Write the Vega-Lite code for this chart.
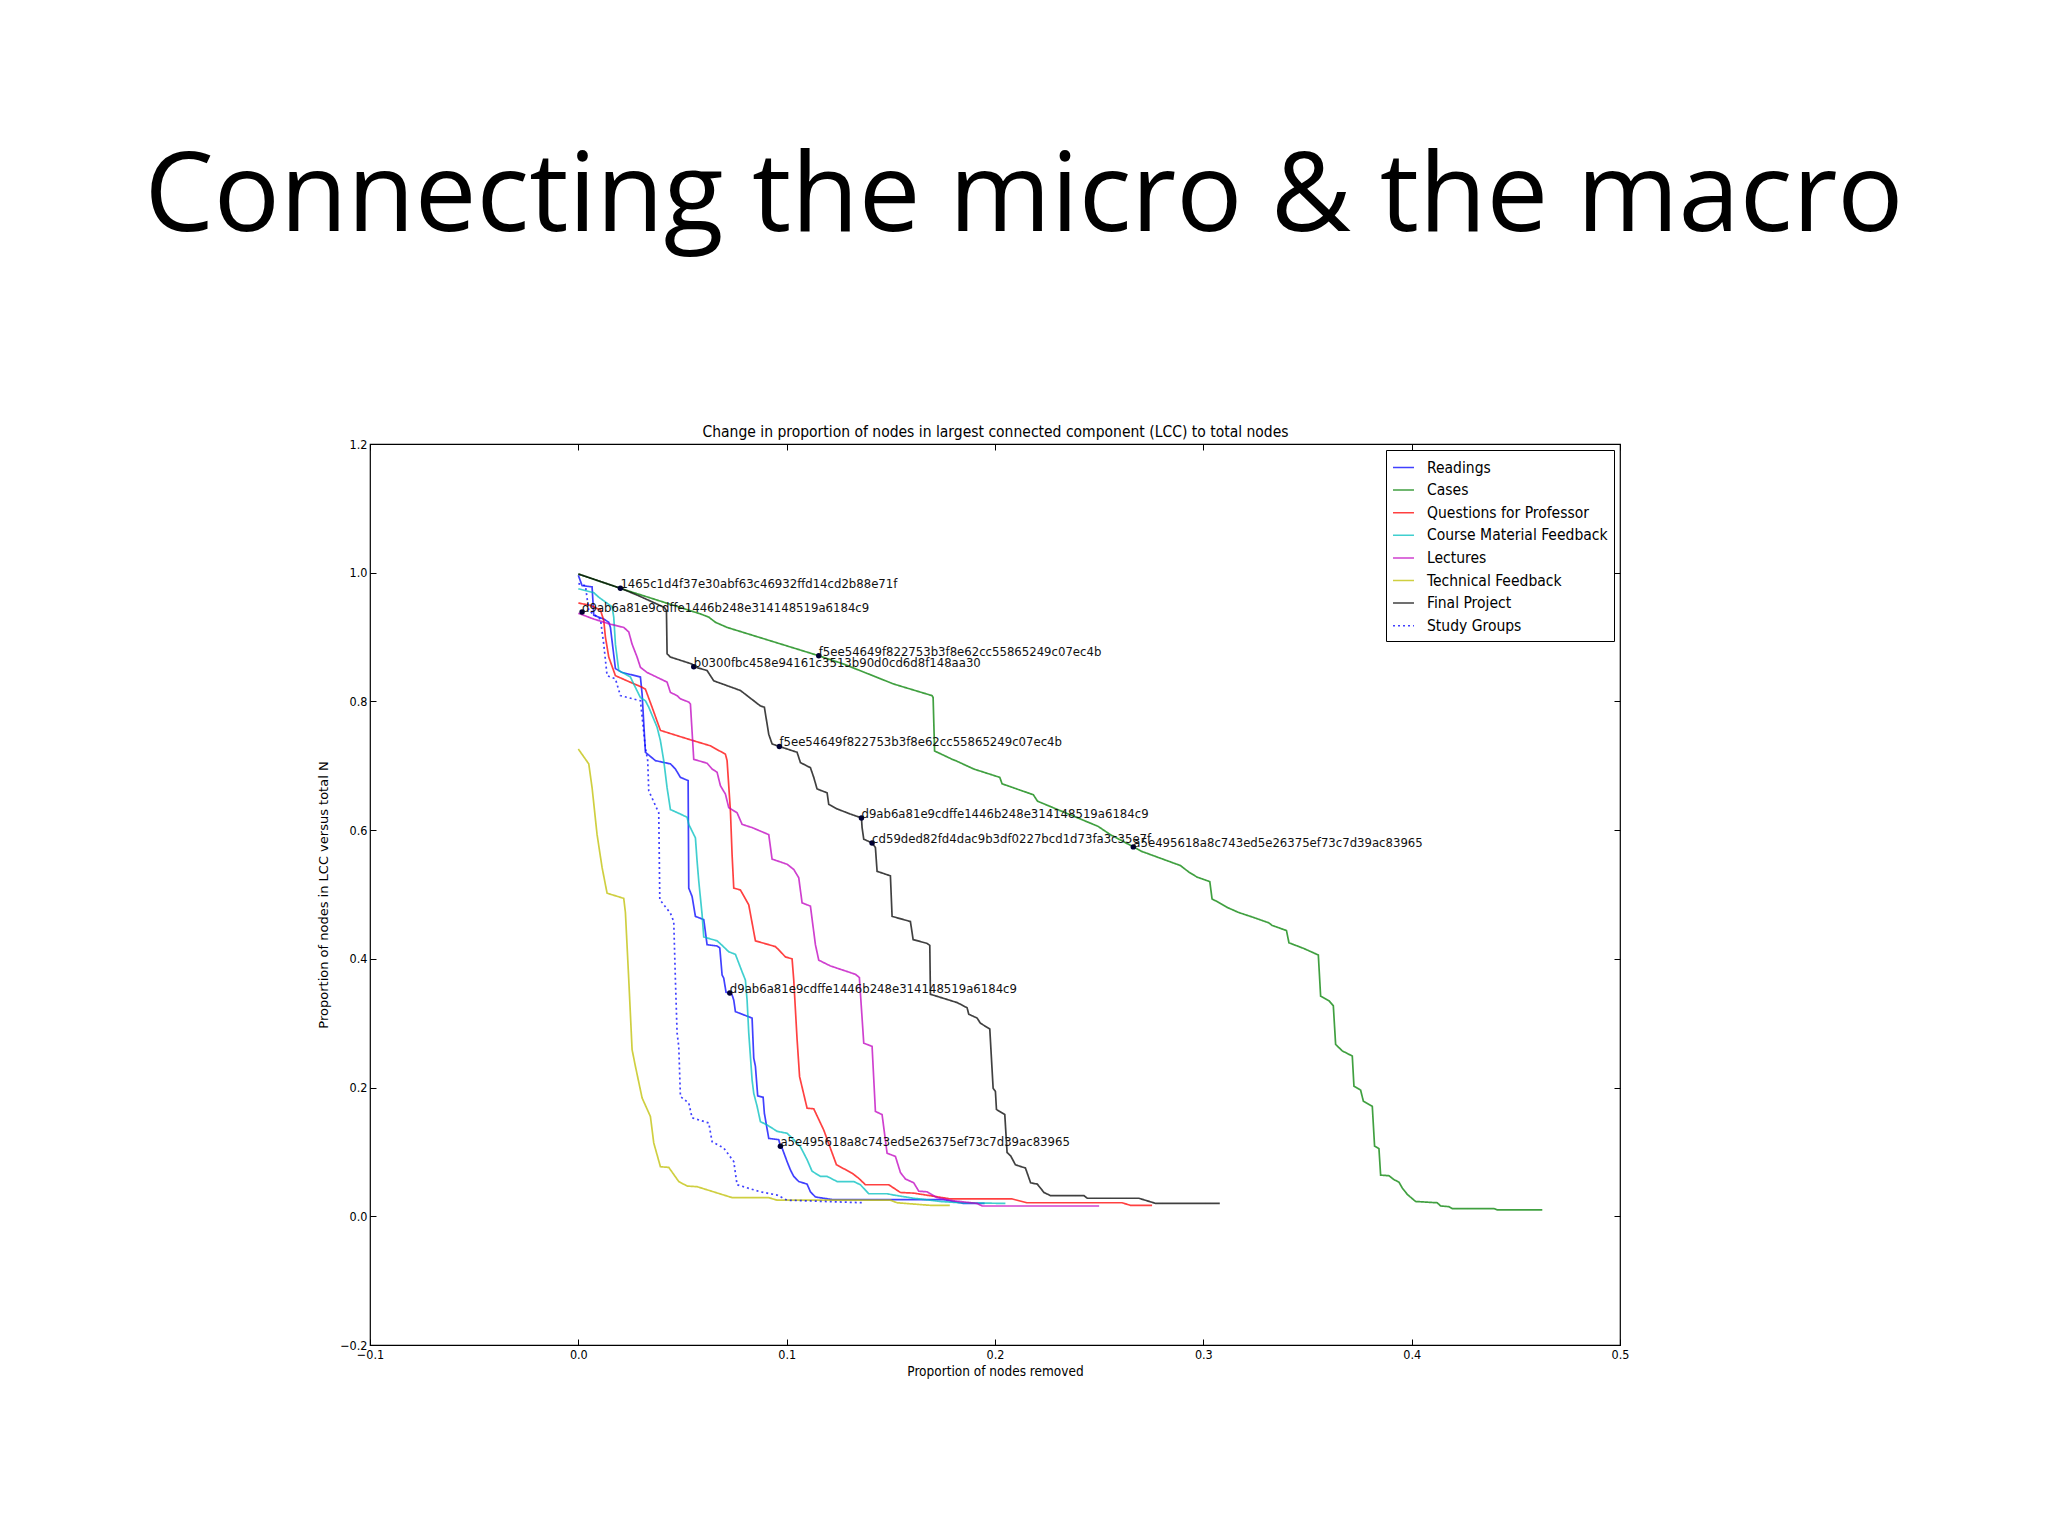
{
  "$schema": "https://vega.github.io/schema/vega-lite/v6.json",
  "width": 1250,
  "height": 901,
  "autosize": {"type": "none"},
  "padding": {"left": 370, "top": 444, "right": 428, "bottom": 191},
  "background": "white",
  "title": {
    "text": "Connecting the micro & the macro",
    "font": "Open Sans",
    "fontSize": 110,
    "fontWeight": "normal",
    "color": "#000000",
    "anchor": "middle",
    "dx": 29,
    "offset": 171,
    "limit": 2000
  },
  "config": {
    "view": {"stroke": "#000000", "strokeWidth": 1.2},
    "axis": {
      "grid": false,
      "domain": false,
      "tickColor": "#000000",
      "tickSize": -6,
      "labelFlush": false,
      "labelColor": "#000000",
      "titleColor": "#000000",
      "labelFont": "DejaVu Sans Condensed, sans-serif",
      "titleFont": "DejaVu Sans Condensed, sans-serif",
      "labelFontSize": 12.5,
      "titleFontSize": 13.5,
      "titleFontWeight": "normal"
    }
  },
  "datasets": {
    "lines": [
      {"s": "Readings", "i": 0, "x": 0, "y": 0.996},
      {"s": "Readings", "i": 1, "x": 0.0018, "y": 0.98},
      {"s": "Readings", "i": 2, "x": 0.0066, "y": 0.978},
      {"s": "Readings", "i": 3, "x": 0.0074, "y": 0.934},
      {"s": "Readings", "i": 4, "x": 0.0122, "y": 0.928},
      {"s": "Readings", "i": 5, "x": 0.0146, "y": 0.923},
      {"s": "Readings", "i": 6, "x": 0.0154, "y": 0.915},
      {"s": "Readings", "i": 7, "x": 0.0178, "y": 0.851},
      {"s": "Readings", "i": 8, "x": 0.021, "y": 0.845},
      {"s": "Readings", "i": 9, "x": 0.0298, "y": 0.838},
      {"s": "Readings", "i": 10, "x": 0.0306, "y": 0.812},
      {"s": "Readings", "i": 11, "x": 0.0322, "y": 0.721},
      {"s": "Readings", "i": 12, "x": 0.037, "y": 0.708},
      {"s": "Readings", "i": 13, "x": 0.0442, "y": 0.703},
      {"s": "Readings", "i": 14, "x": 0.0466, "y": 0.695},
      {"s": "Readings", "i": 15, "x": 0.049, "y": 0.682},
      {"s": "Readings", "i": 16, "x": 0.0527, "y": 0.677},
      {"s": "Readings", "i": 17, "x": 0.053, "y": 0.51},
      {"s": "Readings", "i": 18, "x": 0.0546, "y": 0.497},
      {"s": "Readings", "i": 19, "x": 0.0562, "y": 0.466},
      {"s": "Readings", "i": 20, "x": 0.0602, "y": 0.461},
      {"s": "Readings", "i": 21, "x": 0.0618, "y": 0.422},
      {"s": "Readings", "i": 22, "x": 0.0666, "y": 0.42},
      {"s": "Readings", "i": 23, "x": 0.0679, "y": 0.417},
      {"s": "Readings", "i": 24, "x": 0.069, "y": 0.375},
      {"s": "Readings", "i": 25, "x": 0.0698, "y": 0.37},
      {"s": "Readings", "i": 26, "x": 0.0709, "y": 0.348},
      {"s": "Readings", "i": 27, "x": 0.0727, "y": 0.347},
      {"s": "Readings", "i": 28, "x": 0.0738, "y": 0.344},
      {"s": "Readings", "i": 29, "x": 0.0746, "y": 0.336},
      {"s": "Readings", "i": 30, "x": 0.0754, "y": 0.318},
      {"s": "Readings", "i": 31, "x": 0.081, "y": 0.311},
      {"s": "Readings", "i": 32, "x": 0.0834, "y": 0.308},
      {"s": "Readings", "i": 33, "x": 0.0842, "y": 0.246},
      {"s": "Readings", "i": 34, "x": 0.085, "y": 0.233},
      {"s": "Readings", "i": 35, "x": 0.0861, "y": 0.187},
      {"s": "Readings", "i": 36, "x": 0.0887, "y": 0.185},
      {"s": "Readings", "i": 37, "x": 0.0893, "y": 0.16},
      {"s": "Readings", "i": 38, "x": 0.0914, "y": 0.121},
      {"s": "Readings", "i": 39, "x": 0.0962, "y": 0.119},
      {"s": "Readings", "i": 40, "x": 0.097, "y": 0.109},
      {"s": "Readings", "i": 41, "x": 0.0978, "y": 0.106},
      {"s": "Readings", "i": 42, "x": 0.1002, "y": 0.085},
      {"s": "Readings", "i": 43, "x": 0.1018, "y": 0.072},
      {"s": "Readings", "i": 44, "x": 0.1034, "y": 0.062},
      {"s": "Readings", "i": 45, "x": 0.1058, "y": 0.054},
      {"s": "Readings", "i": 46, "x": 0.1098, "y": 0.05},
      {"s": "Readings", "i": 47, "x": 0.1114, "y": 0.038},
      {"s": "Readings", "i": 48, "x": 0.1138, "y": 0.03},
      {"s": "Readings", "i": 49, "x": 0.1178, "y": 0.028},
      {"s": "Readings", "i": 50, "x": 0.1218, "y": 0.026},
      {"s": "Readings", "i": 51, "x": 0.175, "y": 0.026},
      {"s": "Readings", "i": 52, "x": 0.185, "y": 0.02},
      {"s": "Readings", "i": 53, "x": 0.195, "y": 0.02},

      {"s": "Cases", "i": 0, "x": 0, "y": 0.998},
      {"s": "Cases", "i": 1, "x": 0.0218, "y": 0.974},
      {"s": "Cases", "i": 2, "x": 0.0586, "y": 0.936},
      {"s": "Cases", "i": 3, "x": 0.0626, "y": 0.931},
      {"s": "Cases", "i": 4, "x": 0.0658, "y": 0.923},
      {"s": "Cases", "i": 5, "x": 0.0714, "y": 0.915},
      {"s": "Cases", "i": 6, "x": 0.1154, "y": 0.871},
      {"s": "Cases", "i": 7, "x": 0.1274, "y": 0.858},
      {"s": "Cases", "i": 8, "x": 0.1514, "y": 0.827},
      {"s": "Cases", "i": 9, "x": 0.1698, "y": 0.809},
      {"s": "Cases", "i": 10, "x": 0.1703, "y": 0.806},
      {"s": "Cases", "i": 11, "x": 0.171, "y": 0.723},
      {"s": "Cases", "i": 12, "x": 0.1795, "y": 0.71},
      {"s": "Cases", "i": 13, "x": 0.1811, "y": 0.708},
      {"s": "Cases", "i": 14, "x": 0.1898, "y": 0.695},
      {"s": "Cases", "i": 15, "x": 0.2023, "y": 0.682},
      {"s": "Cases", "i": 16, "x": 0.2034, "y": 0.672},
      {"s": "Cases", "i": 17, "x": 0.2184, "y": 0.655},
      {"s": "Cases", "i": 18, "x": 0.2204, "y": 0.645},
      {"s": "Cases", "i": 19, "x": 0.2494, "y": 0.606},
      {"s": "Cases", "i": 20, "x": 0.2554, "y": 0.593},
      {"s": "Cases", "i": 21, "x": 0.2664, "y": 0.574},
      {"s": "Cases", "i": 22, "x": 0.2704, "y": 0.567},
      {"s": "Cases", "i": 23, "x": 0.289, "y": 0.545},
      {"s": "Cases", "i": 24, "x": 0.293, "y": 0.535},
      {"s": "Cases", "i": 25, "x": 0.297, "y": 0.527},
      {"s": "Cases", "i": 26, "x": 0.3031, "y": 0.52},
      {"s": "Cases", "i": 27, "x": 0.3042, "y": 0.493},
      {"s": "Cases", "i": 28, "x": 0.3066, "y": 0.489},
      {"s": "Cases", "i": 29, "x": 0.3114, "y": 0.48},
      {"s": "Cases", "i": 30, "x": 0.317, "y": 0.472},
      {"s": "Cases", "i": 31, "x": 0.3226, "y": 0.466},
      {"s": "Cases", "i": 32, "x": 0.3314, "y": 0.456},
      {"s": "Cases", "i": 33, "x": 0.333, "y": 0.452},
      {"s": "Cases", "i": 34, "x": 0.3399, "y": 0.444},
      {"s": "Cases", "i": 35, "x": 0.3411, "y": 0.425},
      {"s": "Cases", "i": 36, "x": 0.3483, "y": 0.416},
      {"s": "Cases", "i": 37, "x": 0.3552, "y": 0.406},
      {"s": "Cases", "i": 38, "x": 0.3563, "y": 0.342},
      {"s": "Cases", "i": 39, "x": 0.3603, "y": 0.335},
      {"s": "Cases", "i": 40, "x": 0.3624, "y": 0.327},
      {"s": "Cases", "i": 41, "x": 0.3635, "y": 0.267},
      {"s": "Cases", "i": 42, "x": 0.3667, "y": 0.257},
      {"s": "Cases", "i": 43, "x": 0.3715, "y": 0.249},
      {"s": "Cases", "i": 44, "x": 0.3723, "y": 0.202},
      {"s": "Cases", "i": 45, "x": 0.3755, "y": 0.196},
      {"s": "Cases", "i": 46, "x": 0.3768, "y": 0.179},
      {"s": "Cases", "i": 47, "x": 0.3811, "y": 0.171},
      {"s": "Cases", "i": 48, "x": 0.3822, "y": 0.109},
      {"s": "Cases", "i": 49, "x": 0.3843, "y": 0.105},
      {"s": "Cases", "i": 50, "x": 0.3851, "y": 0.064},
      {"s": "Cases", "i": 51, "x": 0.3891, "y": 0.063},
      {"s": "Cases", "i": 52, "x": 0.3915, "y": 0.057},
      {"s": "Cases", "i": 53, "x": 0.3939, "y": 0.053},
      {"s": "Cases", "i": 54, "x": 0.3955, "y": 0.044},
      {"s": "Cases", "i": 55, "x": 0.3979, "y": 0.034},
      {"s": "Cases", "i": 56, "x": 0.4019, "y": 0.023},
      {"s": "Cases", "i": 57, "x": 0.4123, "y": 0.021},
      {"s": "Cases", "i": 58, "x": 0.4139, "y": 0.016},
      {"s": "Cases", "i": 59, "x": 0.4179, "y": 0.015},
      {"s": "Cases", "i": 60, "x": 0.4195, "y": 0.012},
      {"s": "Cases", "i": 61, "x": 0.4395, "y": 0.012},
      {"s": "Cases", "i": 62, "x": 0.4411, "y": 0.01},
      {"s": "Cases", "i": 63, "x": 0.4627, "y": 0.01},

      {"s": "Questions for Professor", "i": 0, "x": 0, "y": 0.953},
      {"s": "Questions for Professor", "i": 1, "x": 0.006, "y": 0.949},
      {"s": "Questions for Professor", "i": 2, "x": 0.0106, "y": 0.942},
      {"s": "Questions for Professor", "i": 3, "x": 0.0122, "y": 0.926},
      {"s": "Questions for Professor", "i": 4, "x": 0.013, "y": 0.9},
      {"s": "Questions for Professor", "i": 5, "x": 0.0146, "y": 0.869},
      {"s": "Questions for Professor", "i": 6, "x": 0.0178, "y": 0.84},
      {"s": "Questions for Professor", "i": 7, "x": 0.0234, "y": 0.832},
      {"s": "Questions for Professor", "i": 8, "x": 0.0306, "y": 0.822},
      {"s": "Questions for Professor", "i": 9, "x": 0.0322, "y": 0.819},
      {"s": "Questions for Professor", "i": 10, "x": 0.0354, "y": 0.791},
      {"s": "Questions for Professor", "i": 11, "x": 0.0394, "y": 0.755},
      {"s": "Questions for Professor", "i": 12, "x": 0.0522, "y": 0.742},
      {"s": "Questions for Professor", "i": 13, "x": 0.0634, "y": 0.731},
      {"s": "Questions for Professor", "i": 14, "x": 0.0706, "y": 0.718},
      {"s": "Questions for Professor", "i": 15, "x": 0.0714, "y": 0.708},
      {"s": "Questions for Professor", "i": 16, "x": 0.073, "y": 0.63},
      {"s": "Questions for Professor", "i": 17, "x": 0.0738, "y": 0.562},
      {"s": "Questions for Professor", "i": 18, "x": 0.0746, "y": 0.51},
      {"s": "Questions for Professor", "i": 19, "x": 0.0778, "y": 0.507},
      {"s": "Questions for Professor", "i": 20, "x": 0.0818, "y": 0.484},
      {"s": "Questions for Professor", "i": 21, "x": 0.085, "y": 0.428},
      {"s": "Questions for Professor", "i": 22, "x": 0.0946, "y": 0.419},
      {"s": "Questions for Professor", "i": 23, "x": 0.0962, "y": 0.414},
      {"s": "Questions for Professor", "i": 24, "x": 0.0994, "y": 0.403},
      {"s": "Questions for Professor", "i": 25, "x": 0.1026, "y": 0.4},
      {"s": "Questions for Professor", "i": 26, "x": 0.1034, "y": 0.367},
      {"s": "Questions for Professor", "i": 27, "x": 0.105, "y": 0.275},
      {"s": "Questions for Professor", "i": 28, "x": 0.1062, "y": 0.217},
      {"s": "Questions for Professor", "i": 29, "x": 0.1098, "y": 0.168},
      {"s": "Questions for Professor", "i": 30, "x": 0.113, "y": 0.167},
      {"s": "Questions for Professor", "i": 31, "x": 0.1178, "y": 0.134},
      {"s": "Questions for Professor", "i": 32, "x": 0.1239, "y": 0.08},
      {"s": "Questions for Professor", "i": 33, "x": 0.1314, "y": 0.067},
      {"s": "Questions for Professor", "i": 34, "x": 0.1346, "y": 0.059},
      {"s": "Questions for Professor", "i": 35, "x": 0.1378, "y": 0.049},
      {"s": "Questions for Professor", "i": 36, "x": 0.149, "y": 0.049},
      {"s": "Questions for Professor", "i": 37, "x": 0.1546, "y": 0.037},
      {"s": "Questions for Professor", "i": 38, "x": 0.161, "y": 0.036},
      {"s": "Questions for Professor", "i": 39, "x": 0.1786, "y": 0.027},
      {"s": "Questions for Professor", "i": 40, "x": 0.2082, "y": 0.027},
      {"s": "Questions for Professor", "i": 41, "x": 0.2154, "y": 0.021},
      {"s": "Questions for Professor", "i": 42, "x": 0.261, "y": 0.021},
      {"s": "Questions for Professor", "i": 43, "x": 0.265, "y": 0.017},
      {"s": "Questions for Professor", "i": 44, "x": 0.2754, "y": 0.017},

      {"s": "Course Material Feedback", "i": 0, "x": 0, "y": 0.975},
      {"s": "Course Material Feedback", "i": 1, "x": 0.0074, "y": 0.969},
      {"s": "Course Material Feedback", "i": 2, "x": 0.0098, "y": 0.962},
      {"s": "Course Material Feedback", "i": 3, "x": 0.0162, "y": 0.947},
      {"s": "Course Material Feedback", "i": 4, "x": 0.017, "y": 0.931},
      {"s": "Course Material Feedback", "i": 5, "x": 0.0178, "y": 0.889},
      {"s": "Course Material Feedback", "i": 6, "x": 0.0194, "y": 0.848},
      {"s": "Course Material Feedback", "i": 7, "x": 0.025, "y": 0.838},
      {"s": "Course Material Feedback", "i": 8, "x": 0.0266, "y": 0.827},
      {"s": "Course Material Feedback", "i": 9, "x": 0.0298, "y": 0.806},
      {"s": "Course Material Feedback", "i": 10, "x": 0.0322, "y": 0.801},
      {"s": "Course Material Feedback", "i": 11, "x": 0.0338, "y": 0.791},
      {"s": "Course Material Feedback", "i": 12, "x": 0.0378, "y": 0.76},
      {"s": "Course Material Feedback", "i": 13, "x": 0.0394, "y": 0.739},
      {"s": "Course Material Feedback", "i": 14, "x": 0.041, "y": 0.708},
      {"s": "Course Material Feedback", "i": 15, "x": 0.0426, "y": 0.666},
      {"s": "Course Material Feedback", "i": 16, "x": 0.0442, "y": 0.632},
      {"s": "Course Material Feedback", "i": 17, "x": 0.049, "y": 0.625},
      {"s": "Course Material Feedback", "i": 18, "x": 0.0522, "y": 0.62},
      {"s": "Course Material Feedback", "i": 19, "x": 0.053, "y": 0.609},
      {"s": "Course Material Feedback", "i": 20, "x": 0.0562, "y": 0.588},
      {"s": "Course Material Feedback", "i": 21, "x": 0.057, "y": 0.552},
      {"s": "Course Material Feedback", "i": 22, "x": 0.0578, "y": 0.521},
      {"s": "Course Material Feedback", "i": 23, "x": 0.0594, "y": 0.469},
      {"s": "Course Material Feedback", "i": 24, "x": 0.0602, "y": 0.434},
      {"s": "Course Material Feedback", "i": 25, "x": 0.0666, "y": 0.428},
      {"s": "Course Material Feedback", "i": 26, "x": 0.069, "y": 0.421},
      {"s": "Course Material Feedback", "i": 27, "x": 0.0722, "y": 0.411},
      {"s": "Course Material Feedback", "i": 28, "x": 0.0754, "y": 0.407},
      {"s": "Course Material Feedback", "i": 29, "x": 0.0786, "y": 0.38},
      {"s": "Course Material Feedback", "i": 30, "x": 0.0802, "y": 0.367},
      {"s": "Course Material Feedback", "i": 31, "x": 0.081, "y": 0.336},
      {"s": "Course Material Feedback", "i": 32, "x": 0.0818, "y": 0.285},
      {"s": "Course Material Feedback", "i": 33, "x": 0.0834, "y": 0.212},
      {"s": "Course Material Feedback", "i": 34, "x": 0.0842, "y": 0.191},
      {"s": "Course Material Feedback", "i": 35, "x": 0.0858, "y": 0.171},
      {"s": "Course Material Feedback", "i": 36, "x": 0.0874, "y": 0.147},
      {"s": "Course Material Feedback", "i": 37, "x": 0.0906, "y": 0.142},
      {"s": "Course Material Feedback", "i": 38, "x": 0.0954, "y": 0.132},
      {"s": "Course Material Feedback", "i": 39, "x": 0.1002, "y": 0.129},
      {"s": "Course Material Feedback", "i": 40, "x": 0.1034, "y": 0.119},
      {"s": "Course Material Feedback", "i": 41, "x": 0.1066, "y": 0.108},
      {"s": "Course Material Feedback", "i": 42, "x": 0.1098, "y": 0.088},
      {"s": "Course Material Feedback", "i": 43, "x": 0.1122, "y": 0.07},
      {"s": "Course Material Feedback", "i": 44, "x": 0.1162, "y": 0.062},
      {"s": "Course Material Feedback", "i": 45, "x": 0.1194, "y": 0.062},
      {"s": "Course Material Feedback", "i": 46, "x": 0.1242, "y": 0.054},
      {"s": "Course Material Feedback", "i": 47, "x": 0.1322, "y": 0.054},
      {"s": "Course Material Feedback", "i": 48, "x": 0.1354, "y": 0.049},
      {"s": "Course Material Feedback", "i": 49, "x": 0.1394, "y": 0.035},
      {"s": "Course Material Feedback", "i": 50, "x": 0.1482, "y": 0.035},
      {"s": "Course Material Feedback", "i": 51, "x": 0.1514, "y": 0.033},
      {"s": "Course Material Feedback", "i": 52, "x": 0.161, "y": 0.028},
      {"s": "Course Material Feedback", "i": 53, "x": 0.1738, "y": 0.023},
      {"s": "Course Material Feedback", "i": 54, "x": 0.1834, "y": 0.021},
      {"s": "Course Material Feedback", "i": 55, "x": 0.205, "y": 0.02},

      {"s": "Lectures", "i": 0, "x": 0, "y": 0.937},
      {"s": "Lectures", "i": 1, "x": 0.0074, "y": 0.928},
      {"s": "Lectures", "i": 2, "x": 0.0154, "y": 0.92},
      {"s": "Lectures", "i": 3, "x": 0.0218, "y": 0.915},
      {"s": "Lectures", "i": 4, "x": 0.0242, "y": 0.908},
      {"s": "Lectures", "i": 5, "x": 0.0258, "y": 0.889},
      {"s": "Lectures", "i": 6, "x": 0.0282, "y": 0.869},
      {"s": "Lectures", "i": 7, "x": 0.0298, "y": 0.853},
      {"s": "Lectures", "i": 8, "x": 0.033, "y": 0.845},
      {"s": "Lectures", "i": 9, "x": 0.0394, "y": 0.835},
      {"s": "Lectures", "i": 10, "x": 0.0426, "y": 0.83},
      {"s": "Lectures", "i": 11, "x": 0.0442, "y": 0.814},
      {"s": "Lectures", "i": 12, "x": 0.0474, "y": 0.809},
      {"s": "Lectures", "i": 13, "x": 0.049, "y": 0.804},
      {"s": "Lectures", "i": 14, "x": 0.053, "y": 0.799},
      {"s": "Lectures", "i": 15, "x": 0.0538, "y": 0.796},
      {"s": "Lectures", "i": 16, "x": 0.0554, "y": 0.71},
      {"s": "Lectures", "i": 17, "x": 0.0618, "y": 0.704},
      {"s": "Lectures", "i": 18, "x": 0.0642, "y": 0.695},
      {"s": "Lectures", "i": 19, "x": 0.0666, "y": 0.69},
      {"s": "Lectures", "i": 20, "x": 0.0682, "y": 0.669},
      {"s": "Lectures", "i": 21, "x": 0.0706, "y": 0.656},
      {"s": "Lectures", "i": 22, "x": 0.0722, "y": 0.635},
      {"s": "Lectures", "i": 23, "x": 0.0762, "y": 0.627},
      {"s": "Lectures", "i": 24, "x": 0.0786, "y": 0.609},
      {"s": "Lectures", "i": 25, "x": 0.0834, "y": 0.604},
      {"s": "Lectures", "i": 26, "x": 0.0914, "y": 0.593},
      {"s": "Lectures", "i": 27, "x": 0.093, "y": 0.555},
      {"s": "Lectures", "i": 28, "x": 0.1002, "y": 0.547},
      {"s": "Lectures", "i": 29, "x": 0.1034, "y": 0.539},
      {"s": "Lectures", "i": 30, "x": 0.1058, "y": 0.526},
      {"s": "Lectures", "i": 31, "x": 0.1074, "y": 0.487},
      {"s": "Lectures", "i": 32, "x": 0.1114, "y": 0.482},
      {"s": "Lectures", "i": 33, "x": 0.1138, "y": 0.422},
      {"s": "Lectures", "i": 34, "x": 0.1154, "y": 0.398},
      {"s": "Lectures", "i": 35, "x": 0.121, "y": 0.389},
      {"s": "Lectures", "i": 36, "x": 0.133, "y": 0.376},
      {"s": "Lectures", "i": 37, "x": 0.1349, "y": 0.371},
      {"s": "Lectures", "i": 38, "x": 0.137, "y": 0.269},
      {"s": "Lectures", "i": 39, "x": 0.141, "y": 0.264},
      {"s": "Lectures", "i": 40, "x": 0.1426, "y": 0.163},
      {"s": "Lectures", "i": 41, "x": 0.1458, "y": 0.158},
      {"s": "Lectures", "i": 42, "x": 0.1482, "y": 0.098},
      {"s": "Lectures", "i": 43, "x": 0.1522, "y": 0.093},
      {"s": "Lectures", "i": 44, "x": 0.1546, "y": 0.068},
      {"s": "Lectures", "i": 45, "x": 0.157, "y": 0.058},
      {"s": "Lectures", "i": 46, "x": 0.161, "y": 0.052},
      {"s": "Lectures", "i": 47, "x": 0.1634, "y": 0.039},
      {"s": "Lectures", "i": 48, "x": 0.1674, "y": 0.038},
      {"s": "Lectures", "i": 49, "x": 0.1722, "y": 0.029},
      {"s": "Lectures", "i": 50, "x": 0.1802, "y": 0.024},
      {"s": "Lectures", "i": 51, "x": 0.1914, "y": 0.02},
      {"s": "Lectures", "i": 52, "x": 0.1938, "y": 0.016},
      {"s": "Lectures", "i": 53, "x": 0.25, "y": 0.016},

      {"s": "Technical Feedback", "i": 0, "x": 0, "y": 0.726},
      {"s": "Technical Feedback", "i": 1, "x": 0.005, "y": 0.703},
      {"s": "Technical Feedback", "i": 2, "x": 0.0066, "y": 0.666},
      {"s": "Technical Feedback", "i": 3, "x": 0.009, "y": 0.593},
      {"s": "Technical Feedback", "i": 4, "x": 0.0114, "y": 0.542},
      {"s": "Technical Feedback", "i": 5, "x": 0.0138, "y": 0.502},
      {"s": "Technical Feedback", "i": 6, "x": 0.0218, "y": 0.494},
      {"s": "Technical Feedback", "i": 7, "x": 0.0226, "y": 0.472},
      {"s": "Technical Feedback", "i": 8, "x": 0.0242, "y": 0.368},
      {"s": "Technical Feedback", "i": 9, "x": 0.0258, "y": 0.259},
      {"s": "Technical Feedback", "i": 10, "x": 0.0274, "y": 0.233},
      {"s": "Technical Feedback", "i": 11, "x": 0.0306, "y": 0.184},
      {"s": "Technical Feedback", "i": 12, "x": 0.0346, "y": 0.155},
      {"s": "Technical Feedback", "i": 13, "x": 0.0362, "y": 0.114},
      {"s": "Technical Feedback", "i": 14, "x": 0.0394, "y": 0.077},
      {"s": "Technical Feedback", "i": 15, "x": 0.0434, "y": 0.076},
      {"s": "Technical Feedback", "i": 16, "x": 0.0482, "y": 0.054},
      {"s": "Technical Feedback", "i": 17, "x": 0.0522, "y": 0.047},
      {"s": "Technical Feedback", "i": 18, "x": 0.057, "y": 0.046},
      {"s": "Technical Feedback", "i": 19, "x": 0.0738, "y": 0.029},
      {"s": "Technical Feedback", "i": 20, "x": 0.0914, "y": 0.029},
      {"s": "Technical Feedback", "i": 21, "x": 0.0954, "y": 0.025},
      {"s": "Technical Feedback", "i": 22, "x": 0.1498, "y": 0.025},
      {"s": "Technical Feedback", "i": 23, "x": 0.153, "y": 0.021},
      {"s": "Technical Feedback", "i": 24, "x": 0.169, "y": 0.017},
      {"s": "Technical Feedback", "i": 25, "x": 0.1783, "y": 0.017},

      {"s": "Final Project", "i": 0, "x": 0, "y": 0.998},
      {"s": "Final Project", "i": 1, "x": 0.021, "y": 0.975},
      {"s": "Final Project", "i": 2, "x": 0.0298, "y": 0.963},
      {"s": "Final Project", "i": 3, "x": 0.0413, "y": 0.946},
      {"s": "Final Project", "i": 4, "x": 0.0423, "y": 0.941},
      {"s": "Final Project", "i": 5, "x": 0.0426, "y": 0.874},
      {"s": "Final Project", "i": 6, "x": 0.0442, "y": 0.869},
      {"s": "Final Project", "i": 7, "x": 0.0546, "y": 0.858},
      {"s": "Final Project", "i": 8, "x": 0.0554, "y": 0.854},
      {"s": "Final Project", "i": 9, "x": 0.0618, "y": 0.848},
      {"s": "Final Project", "i": 10, "x": 0.065, "y": 0.832},
      {"s": "Final Project", "i": 11, "x": 0.0778, "y": 0.817},
      {"s": "Final Project", "i": 12, "x": 0.0842, "y": 0.801},
      {"s": "Final Project", "i": 13, "x": 0.0874, "y": 0.793},
      {"s": "Final Project", "i": 14, "x": 0.0893, "y": 0.791},
      {"s": "Final Project", "i": 15, "x": 0.0914, "y": 0.749},
      {"s": "Final Project", "i": 16, "x": 0.093, "y": 0.734},
      {"s": "Final Project", "i": 17, "x": 0.0965, "y": 0.73},
      {"s": "Final Project", "i": 18, "x": 0.105, "y": 0.721},
      {"s": "Final Project", "i": 19, "x": 0.1066, "y": 0.705},
      {"s": "Final Project", "i": 20, "x": 0.1114, "y": 0.697},
      {"s": "Final Project", "i": 21, "x": 0.113, "y": 0.682},
      {"s": "Final Project", "i": 22, "x": 0.1146, "y": 0.664},
      {"s": "Final Project", "i": 23, "x": 0.1194, "y": 0.658},
      {"s": "Final Project", "i": 24, "x": 0.1202, "y": 0.64},
      {"s": "Final Project", "i": 25, "x": 0.1242, "y": 0.633},
      {"s": "Final Project", "i": 26, "x": 0.1306, "y": 0.625},
      {"s": "Final Project", "i": 27, "x": 0.1359, "y": 0.619},
      {"s": "Final Project", "i": 28, "x": 0.1362, "y": 0.604},
      {"s": "Final Project", "i": 29, "x": 0.137, "y": 0.586},
      {"s": "Final Project", "i": 30, "x": 0.141, "y": 0.58},
      {"s": "Final Project", "i": 31, "x": 0.1426, "y": 0.573},
      {"s": "Final Project", "i": 32, "x": 0.1434, "y": 0.536},
      {"s": "Final Project", "i": 33, "x": 0.1498, "y": 0.529},
      {"s": "Final Project", "i": 34, "x": 0.1506, "y": 0.466},
      {"s": "Final Project", "i": 35, "x": 0.1594, "y": 0.458},
      {"s": "Final Project", "i": 36, "x": 0.1607, "y": 0.43},
      {"s": "Final Project", "i": 37, "x": 0.1674, "y": 0.424},
      {"s": "Final Project", "i": 38, "x": 0.1687, "y": 0.421},
      {"s": "Final Project", "i": 39, "x": 0.169, "y": 0.345},
      {"s": "Final Project", "i": 40, "x": 0.1819, "y": 0.332},
      {"s": "Final Project", "i": 41, "x": 0.1866, "y": 0.324},
      {"s": "Final Project", "i": 42, "x": 0.1874, "y": 0.314},
      {"s": "Final Project", "i": 43, "x": 0.1914, "y": 0.308},
      {"s": "Final Project", "i": 44, "x": 0.193, "y": 0.3},
      {"s": "Final Project", "i": 45, "x": 0.1975, "y": 0.291},
      {"s": "Final Project", "i": 46, "x": 0.1991, "y": 0.199},
      {"s": "Final Project", "i": 47, "x": 0.2002, "y": 0.194},
      {"s": "Final Project", "i": 48, "x": 0.2007, "y": 0.166},
      {"s": "Final Project", "i": 49, "x": 0.2047, "y": 0.158},
      {"s": "Final Project", "i": 50, "x": 0.2058, "y": 0.099},
      {"s": "Final Project", "i": 51, "x": 0.2075, "y": 0.094},
      {"s": "Final Project", "i": 52, "x": 0.2098, "y": 0.08},
      {"s": "Final Project", "i": 53, "x": 0.2146, "y": 0.075},
      {"s": "Final Project", "i": 54, "x": 0.2171, "y": 0.052},
      {"s": "Final Project", "i": 55, "x": 0.2203, "y": 0.05},
      {"s": "Final Project", "i": 56, "x": 0.2235, "y": 0.037},
      {"s": "Final Project", "i": 57, "x": 0.2267, "y": 0.032},
      {"s": "Final Project", "i": 58, "x": 0.2427, "y": 0.032},
      {"s": "Final Project", "i": 59, "x": 0.2443, "y": 0.028},
      {"s": "Final Project", "i": 60, "x": 0.2691, "y": 0.028},
      {"s": "Final Project", "i": 61, "x": 0.2771, "y": 0.02},
      {"s": "Final Project", "i": 62, "x": 0.3079, "y": 0.02},

      {"s": "Study Groups", "i": 0, "x": 0, "y": 0.983},
      {"s": "Study Groups", "i": 1, "x": 0.0034, "y": 0.98},
      {"s": "Study Groups", "i": 2, "x": 0.005, "y": 0.941},
      {"s": "Study Groups", "i": 3, "x": 0.0106, "y": 0.928},
      {"s": "Study Groups", "i": 4, "x": 0.0122, "y": 0.889},
      {"s": "Study Groups", "i": 5, "x": 0.0138, "y": 0.84},
      {"s": "Study Groups", "i": 6, "x": 0.0178, "y": 0.835},
      {"s": "Study Groups", "i": 7, "x": 0.0202, "y": 0.809},
      {"s": "Study Groups", "i": 8, "x": 0.0298, "y": 0.801},
      {"s": "Study Groups", "i": 9, "x": 0.0322, "y": 0.728},
      {"s": "Study Groups", "i": 10, "x": 0.0333, "y": 0.708},
      {"s": "Study Groups", "i": 11, "x": 0.0338, "y": 0.661},
      {"s": "Study Groups", "i": 12, "x": 0.0386, "y": 0.627},
      {"s": "Study Groups", "i": 13, "x": 0.0391, "y": 0.492},
      {"s": "Study Groups", "i": 14, "x": 0.0442, "y": 0.471},
      {"s": "Study Groups", "i": 15, "x": 0.0458, "y": 0.458},
      {"s": "Study Groups", "i": 16, "x": 0.0466, "y": 0.367},
      {"s": "Study Groups", "i": 17, "x": 0.0474, "y": 0.285},
      {"s": "Study Groups", "i": 18, "x": 0.0482, "y": 0.264},
      {"s": "Study Groups", "i": 19, "x": 0.049, "y": 0.186},
      {"s": "Study Groups", "i": 20, "x": 0.053, "y": 0.176},
      {"s": "Study Groups", "i": 21, "x": 0.0546, "y": 0.153},
      {"s": "Study Groups", "i": 22, "x": 0.0626, "y": 0.145},
      {"s": "Study Groups", "i": 23, "x": 0.0642, "y": 0.116},
      {"s": "Study Groups", "i": 24, "x": 0.0698, "y": 0.106},
      {"s": "Study Groups", "i": 25, "x": 0.0746, "y": 0.085},
      {"s": "Study Groups", "i": 26, "x": 0.0762, "y": 0.049},
      {"s": "Study Groups", "i": 27, "x": 0.0874, "y": 0.038},
      {"s": "Study Groups", "i": 28, "x": 0.0954, "y": 0.033},
      {"s": "Study Groups", "i": 29, "x": 0.1002, "y": 0.025},
      {"s": "Study Groups", "i": 30, "x": 0.137, "y": 0.021}
    ],
    "notes": [
      {"x": 0.0202, "y": 0.976, "label": "1465c1d4f37e30abf63c46932ffd14cd2b88e71f"},
      {"x": 0.0018, "y": 0.939, "label": "d9ab6a81e9cdffe1446b248e314148519a6184c9"},
      {"x": 0.1154, "y": 0.871, "label": "f5ee54649f822753b3f8e62cc55865249c07ec4b"},
      {"x": 0.0554, "y": 0.854, "label": "b0300fbc458e94161c3513b90d0cd6d8f148aa30"},
      {"x": 0.0965, "y": 0.73, "label": "f5ee54649f822753b3f8e62cc55865249c07ec4b"},
      {"x": 0.1359, "y": 0.619, "label": "d9ab6a81e9cdffe1446b248e314148519a6184c9"},
      {"x": 0.141, "y": 0.58, "label": "cd59ded82fd4dac9b3df0227bcd1d73fa3c35e7f"},
      {"x": 0.2664, "y": 0.574, "label": "a5e495618a8c743ed5e26375ef73c7d39ac83965"},
      {"x": 0.0727, "y": 0.347, "label": "d9ab6a81e9cdffe1446b248e314148519a6184c9"},
      {"x": 0.097, "y": 0.109, "label": "a5e495618a8c743ed5e26375ef73c7d39ac83965"}
    ]
  },
  "layer": [
    {
      "data": {"name": "lines"},
      "mark": {"type": "line", "strokeWidth": 1.7, "opacity": 0.75, "clip": true},
      "encoding": {
        "x": {
          "field": "x", "type": "quantitative",
          "scale": {"domain": [-0.1, 0.5], "nice": false, "zero": false},
          "axis": {"orient": "bottom", "values": [-0.1, 0, 0.1, 0.2, 0.3, 0.4, 0.5], "format": ".1f", "title": "Proportion of nodes removed", "labelPadding": 9, "titlePadding": 4}
        },
        "y": {
          "field": "y", "type": "quantitative",
          "scale": {"domain": [-0.2, 1.2], "nice": false, "zero": false},
          "axis": {"orient": "left", "values": [-0.2, 0, 0.2, 0.4, 0.6, 0.8, 1.0, 1.2], "format": ".1f", "title": "Proportion of nodes in LCC versus total N", "titleFont": "DejaVu Sans", "titleFontSize": 13, "labelPadding": 9, "titlePadding": 9}
        },
        "color": {
          "field": "s", "type": "nominal",
          "scale": {
            "domain": ["Readings", "Cases", "Questions for Professor", "Course Material Feedback", "Lectures", "Technical Feedback", "Final Project", "Study Groups"],
            "range": ["#0000ff", "#008000", "#ff0000", "#00bfbf", "#bf00bf", "#bfbf00", "#000000", "#0000ff"]
          },
          "legend": {
            "title": null, "orient": "top-right", "offset": 6,
            "strokeColor": "#000000", "fillColor": "#ffffff", "padding": 6,
            "symbolType": "stroke", "symbolSize": 440, "symbolStrokeWidth": 1.5, "symbolOpacity": 0.75,
            "labelFont": "DejaVu Sans Condensed, sans-serif", "labelFontSize": 15.5, "labelColor": "#000000", "labelLimit": 400,
            "rowPadding": 2.6, "labelOffset": 12
          }
        },
        "strokeDash": {
          "field": "s", "type": "nominal",
          "scale": {
            "domain": ["Readings", "Cases", "Questions for Professor", "Course Material Feedback", "Lectures", "Technical Feedback", "Final Project", "Study Groups"],
            "range": [[1, 0], [1, 0], [1, 0], [1, 0], [1, 0], [1, 0], [1, 0], [2, 3]]
          },
          "legend": {
            "title": null, "orient": "top-right", "offset": 6,
            "strokeColor": "#000000", "fillColor": "#ffffff", "padding": 6,
            "symbolType": "stroke", "symbolSize": 440, "symbolStrokeWidth": 1.5, "symbolOpacity": 0.75,
            "labelFont": "DejaVu Sans Condensed, sans-serif", "labelFontSize": 15.5, "labelColor": "#000000", "labelLimit": 400,
            "rowPadding": 2.6, "labelOffset": 12
          }
        },
        "order": {"field": "i", "type": "quantitative"}
      }
    },
    {
      "data": {"name": "notes"},
      "mark": {"type": "point", "filled": true, "size": 30, "color": "#000033", "opacity": 1},
      "encoding": {
        "x": {
          "field": "x", "type": "quantitative",
          "scale": {"domain": [-0.1, 0.5], "nice": false, "zero": false},
          "axis": {"orient": "top", "values": [-0.1, 0, 0.1, 0.2, 0.3, 0.4, 0.5], "labels": false, "title": "Change in proportion of nodes in largest connected component (LCC) to total nodes", "titleFontSize": 15.5, "titlePadding": 4}
        },
        "y": {
          "field": "y", "type": "quantitative",
          "scale": {"domain": [-0.2, 1.2], "nice": false, "zero": false},
          "axis": {"orient": "right", "values": [-0.2, 0, 0.2, 0.4, 0.6, 0.8, 1.0, 1.2], "labels": false, "title": null}
        }
      }
    },
    {
      "data": {"name": "notes"},
      "mark": {"type": "text", "align": "left", "baseline": "alphabetic", "font": "DejaVu Sans Condensed, sans-serif", "fontSize": 13, "color": "#111111"},
      "encoding": {
        "x": {"field": "x", "type": "quantitative", "axis": null},
        "y": {"field": "y", "type": "quantitative", "axis": null},
        "text": {"field": "label"}
      }
    }
  ],
  "resolve": {"axis": {"x": "independent", "y": "independent"}}
}
